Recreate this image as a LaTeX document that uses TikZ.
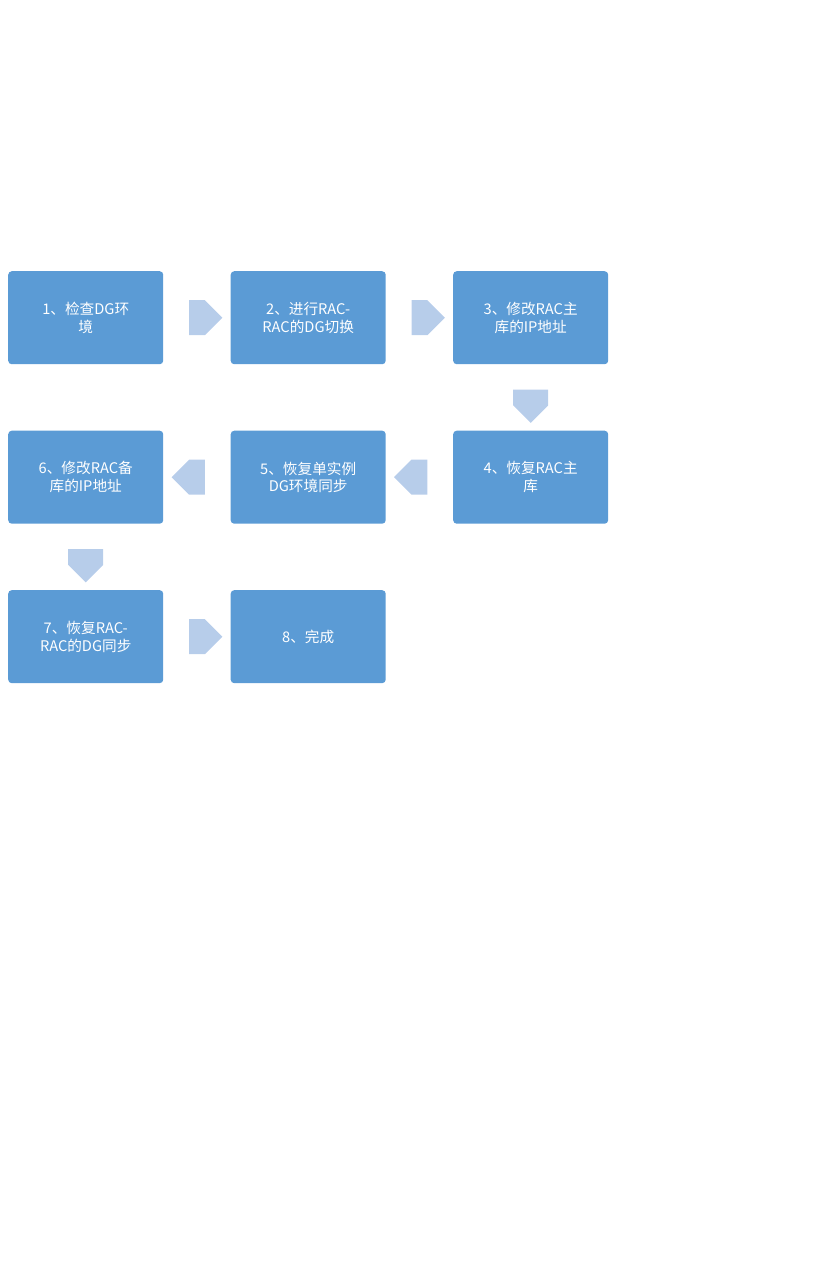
\documentclass[tikz,border=0pt]{standalone}
\usepackage{fontspec}
\setmainfont{Noto Sans CJK SC}
\usetikzlibrary{shapes.arrows, positioning, calc}
\definecolor{stepblue}{RGB}{91,155,213}
\definecolor{arrowblue}{RGB}{183,205,234}
\tikzset{
    stepbox/.style={
        rectangle, fill=stepblue, text=white, minimum width=4.65cm, minimum height=2.79cm,
        rounded corners=3pt, align=center, font=\fontsize{12.5}{15}\selectfont
    },
    flowarrow/.style={
        single arrow, fill=arrowblue, minimum height=1cm, minimum width=1.05cm,
        single arrow head extend=0pt, inner sep=0pt
    }
}
\begin{document}
\begin{tikzpicture}[node distance=1.98cm and 2.01cm]

% Boxes
\node[stepbox] (s1) {1、检查DG环\\境};
\node[stepbox, right=of s1] (s2) {2、进行RAC-\\RAC的DG切换};
\node[stepbox, right=of s2] (s3) {3、修改RAC主\\库的IP地址};
\node[stepbox, below=of s3] (s4) {4、恢复RAC主\\库};
\node[stepbox, left=of s4] (s5) {5、恢复单实例\\DG环境同步};
\node[stepbox, left=of s5] (s6) {6、修改RAC备\\库的IP地址};
\node[stepbox, below=of s6] (s7) {7、恢复RAC-\\RAC的DG同步};
\node[stepbox, right=of s7] (s8) {8、完成};

% Arrows
\node[flowarrow] at ($(s1.east)!0.5!(s2.west)$) (a12) {};
\node[flowarrow] at ($(s2.east)!0.5!(s3.west)$) (a23) {};
\node[flowarrow, rotate=-90] at ($(s3.south)!0.5!(s4.north)$) (a34) {};
\node[flowarrow, rotate=180] at ($(s4.west)!0.5!(s5.east)$) (a45) {};
\node[flowarrow, rotate=180] at ($(s5.west)!0.5!(s6.east)$) (a56) {};
\node[flowarrow, rotate=-90] at ($(s6.south)!0.5!(s7.north)$) (a67) {};
\node[flowarrow] at ($(s7.east)!0.5!(s8.west)$) (a78) {};

% Page margins
\coordinate (tl) at ($(s1.north west)+(-0.24,8.13)$);
\useasboundingbox (tl) rectangle ($(tl)+(24.93,-38.16)$);

\end{tikzpicture}
\end{document}
